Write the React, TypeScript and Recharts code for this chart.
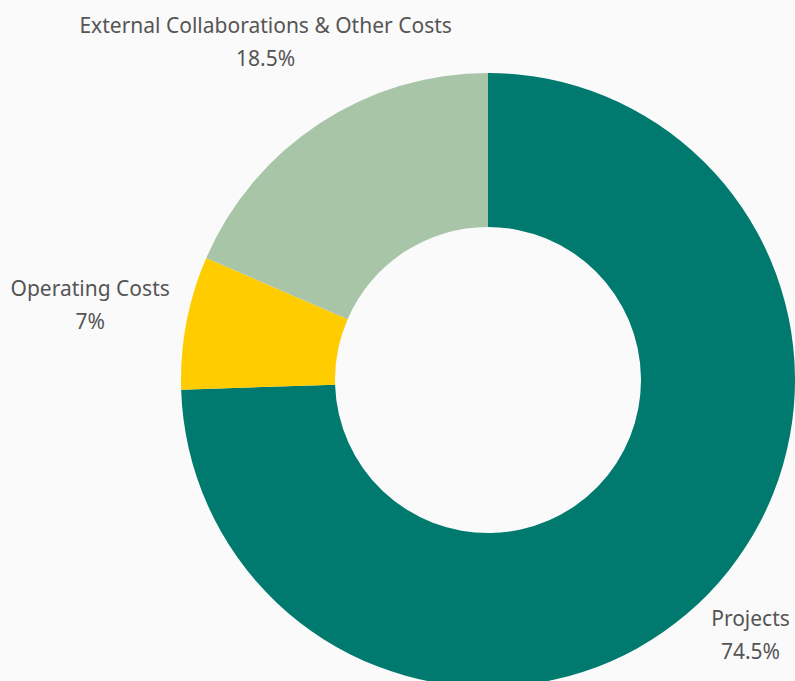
import { PieChart, Pie, Cell } from "recharts"

const categories = ["Projects", "Operating Costs", "External Collaborations & Other Costs"]
const shares = [74.5, 7, 18.5]
const colors = ["#007A6E", "#FFCC00", "#A8C5A8"]

const data = categories.map((name, i) => ({ name, value: shares[i] }))

const WIDTH = 795
const HEIGHT = 681
const FONT_SIZE = 21
const LINE_GAP = 33

const RADIAN = Math.PI / 180

const renderLabel = (props: any) => {
  const { cx, cy, midAngle, outerRadius, name, value } = props
  const cos = Math.cos(-midAngle * RADIAN)
  const sin = Math.sin(-midAngle * RADIAN)
  const halfWidth = (name.length * FONT_SIZE * 0.47) / 2
  let r = outerRadius + 98
  // pull the label in when it would run off the right edge
  if (cos > 0) {
    const maxX = WIDTH - 5 - halfWidth
    if (cx + r * cos > maxX) r = (maxX - cx) / cos
  }
  const x = cx + r * cos
  const y = cy + r * sin
  return (
    <text
      x={x}
      y={y}
      textAnchor="middle"
      fill="#555555"
      fontSize={FONT_SIZE}
      fontFamily="'Noto Sans', sans-serif"
    >
      <tspan x={x} y={y - LINE_GAP / 2} dominantBaseline="central">{name}</tspan>
      <tspan x={x} y={y + LINE_GAP / 2} dominantBaseline="central">{`${value}%`}</tspan>
    </text>
  )
}

export default function App() {
  return (
    <div
      style={{
        position: "fixed",
        top: 0,
        left: 0,
        width: WIDTH,
        height: HEIGHT,
        background: "#FAFAFA",
      }}
    >
      <PieChart width={WIDTH} height={HEIGHT} margin={{ top: 0, right: 0, bottom: 0, left: 0 }}>
        <Pie
          data={data}
          dataKey="value"
          nameKey="name"
          cx={488}
          cy={380}
          innerRadius={153}
          outerRadius={307}
          startAngle={90}
          endAngle={-270}
          stroke="none"
          labelLine={false}
          label={renderLabel}
          isAnimationActive={false}
        >
          {data.map((entry, index) => (
            <Cell key={`slice-${index}`} fill={colors[index]} />
          ))}
        </Pie>
      </PieChart>
    </div>
  )
}
